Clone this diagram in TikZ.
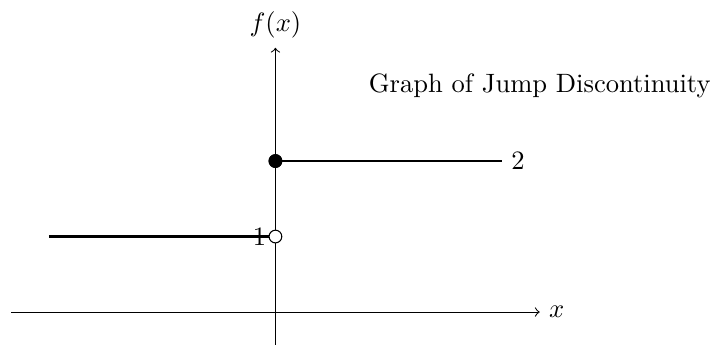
\documentclass[tikz,border=0pt]{standalone}
\begin{document}
\begin{tikzpicture}[
  axis/.style={->},
  jumpline/.style={thick},
  dotfill/.style={circle,draw,fill=black,inner sep=0pt,minimum size=4.8pt},
  dotopen/.style={circle,draw,fill=white,inner sep=0pt,minimum size=4.8pt}
]
\useasboundingbox (-3.648,-0.436) rectangle (5.782,4.133);
% axes
\coordinate (xs) at (-3.5,0);
\coordinate (ys) at (0,-0.5);
\node[right] (xl) at (3.5,0) {$x$};
\node[above] (yl) at (0,3.5) {$f(x)$};
\draw[axis] (xs) -- (xl.west);
\draw[axis] (ys) -- (yl.south);
% lower piece
\coordinate (la) at (-3,1);
\node[left] (one) at (0,1) {1};
\node[dotopen] (po) at (0,1) {};
\draw[jumpline] (la) -- (po.west);
% upper piece
\node[right] (two) at (3,2) {2};
\node[dotfill] (pf) at (0,2) {};
\draw[jumpline] (pf.center) -- (two.west);
\node[dotfill] at (0,2) {};
% title
\node (title) at (3.5,3) {Graph of Jump Discontinuity};
\end{tikzpicture}
\end{document}
